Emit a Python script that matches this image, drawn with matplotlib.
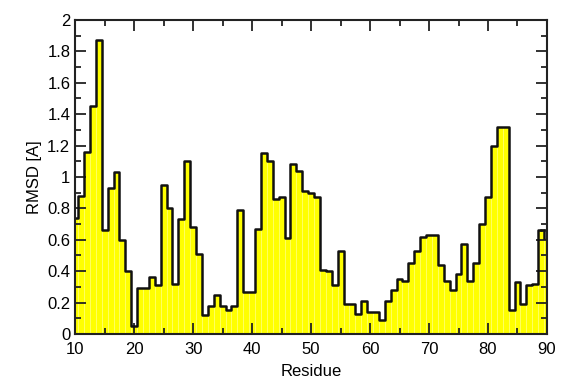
import matplotlib.pyplot as plt
import numpy as np
from matplotlib.ticker import MultipleLocator, FuncFormatter

plt.rcParams['font.family'] = ['Liberation Sans', 'DejaVu Sans']

# per-residue RMSD, residues 10..90
residues = np.arange(10, 91)
rmsd = [0.74, 0.88, 1.16, 1.45, 1.87, 0.66, 0.93, 1.03, 0.60, 0.40,
        0.05, 0.29, 0.29, 0.36, 0.31, 0.95, 0.80, 0.32, 0.73, 1.10,
        0.68, 0.51, 0.12, 0.18, 0.25, 0.18, 0.15, 0.18, 0.79, 0.27,
        0.27, 0.67, 1.15, 1.10, 0.86, 0.87, 0.61, 1.08, 1.04, 0.91,
        0.90, 0.87, 0.41, 0.40, 0.31, 0.53, 0.19, 0.19, 0.13, 0.21,
        0.14, 0.14, 0.09, 0.21, 0.28, 0.35, 0.34, 0.45, 0.53, 0.62,
        0.63, 0.63, 0.44, 0.34, 0.28, 0.38, 0.57, 0.34, 0.45, 0.70,
        0.87, 1.20, 1.32, 1.32, 0.15, 0.33, 0.19, 0.31, 0.32, 0.66,
        0.61]

fig = plt.figure(figsize=(5.61, 3.83), dpi=100)
ax = fig.add_axes([0.134, 0.128, 0.841, 0.82])

# yellow bars with faint light edges
ax.bar(residues, rmsd, width=1.0, color='#ffff00', edgecolor='#ffff70',
       linewidth=0.5, zorder=1)
# black step outline
ax.step(residues[:-1], rmsd[:-1], where='mid', color='#111111', lw=1.8, zorder=2)
ax.plot([residues[-2], residues[-2] + 0.5], [rmsd[-2], rmsd[-2]], color='#111111', lw=1.8, zorder=2)
ax.plot([residues[-2] + 0.5, residues[-2] + 0.5], [rmsd[-2], rmsd[-1]], color='#111111', lw=1.8, zorder=2)

ax.set_xlim(10, 90)
ax.set_ylim(0, 2)

ax.xaxis.set_major_locator(MultipleLocator(10))
ax.xaxis.set_minor_locator(MultipleLocator(5))
ax.yaxis.set_major_locator(MultipleLocator(0.2))
ax.yaxis.set_minor_locator(MultipleLocator(0.1))
ax.yaxis.set_major_formatter(FuncFormatter(lambda v, p: f'{v:.1f}'.rstrip('0').rstrip('.')))

ax.tick_params(which='both', direction='in', top=True, right=True, width=1.3,
               labelsize=12, color='#222222')
ax.tick_params(which='major', length=8)
ax.tick_params(which='minor', length=4)
ax.tick_params(axis='x', pad=6)
for s in ax.spines.values():
    s.set_linewidth(1.5)
    s.set_color('#222222')
    s.set_zorder(3)

ax.set_xlabel('Residue', fontsize=12, labelpad=5)
ax.set_ylabel('RMSD [A]', fontsize=12, labelpad=4)

fig.savefig('out.png', dpi=100)
